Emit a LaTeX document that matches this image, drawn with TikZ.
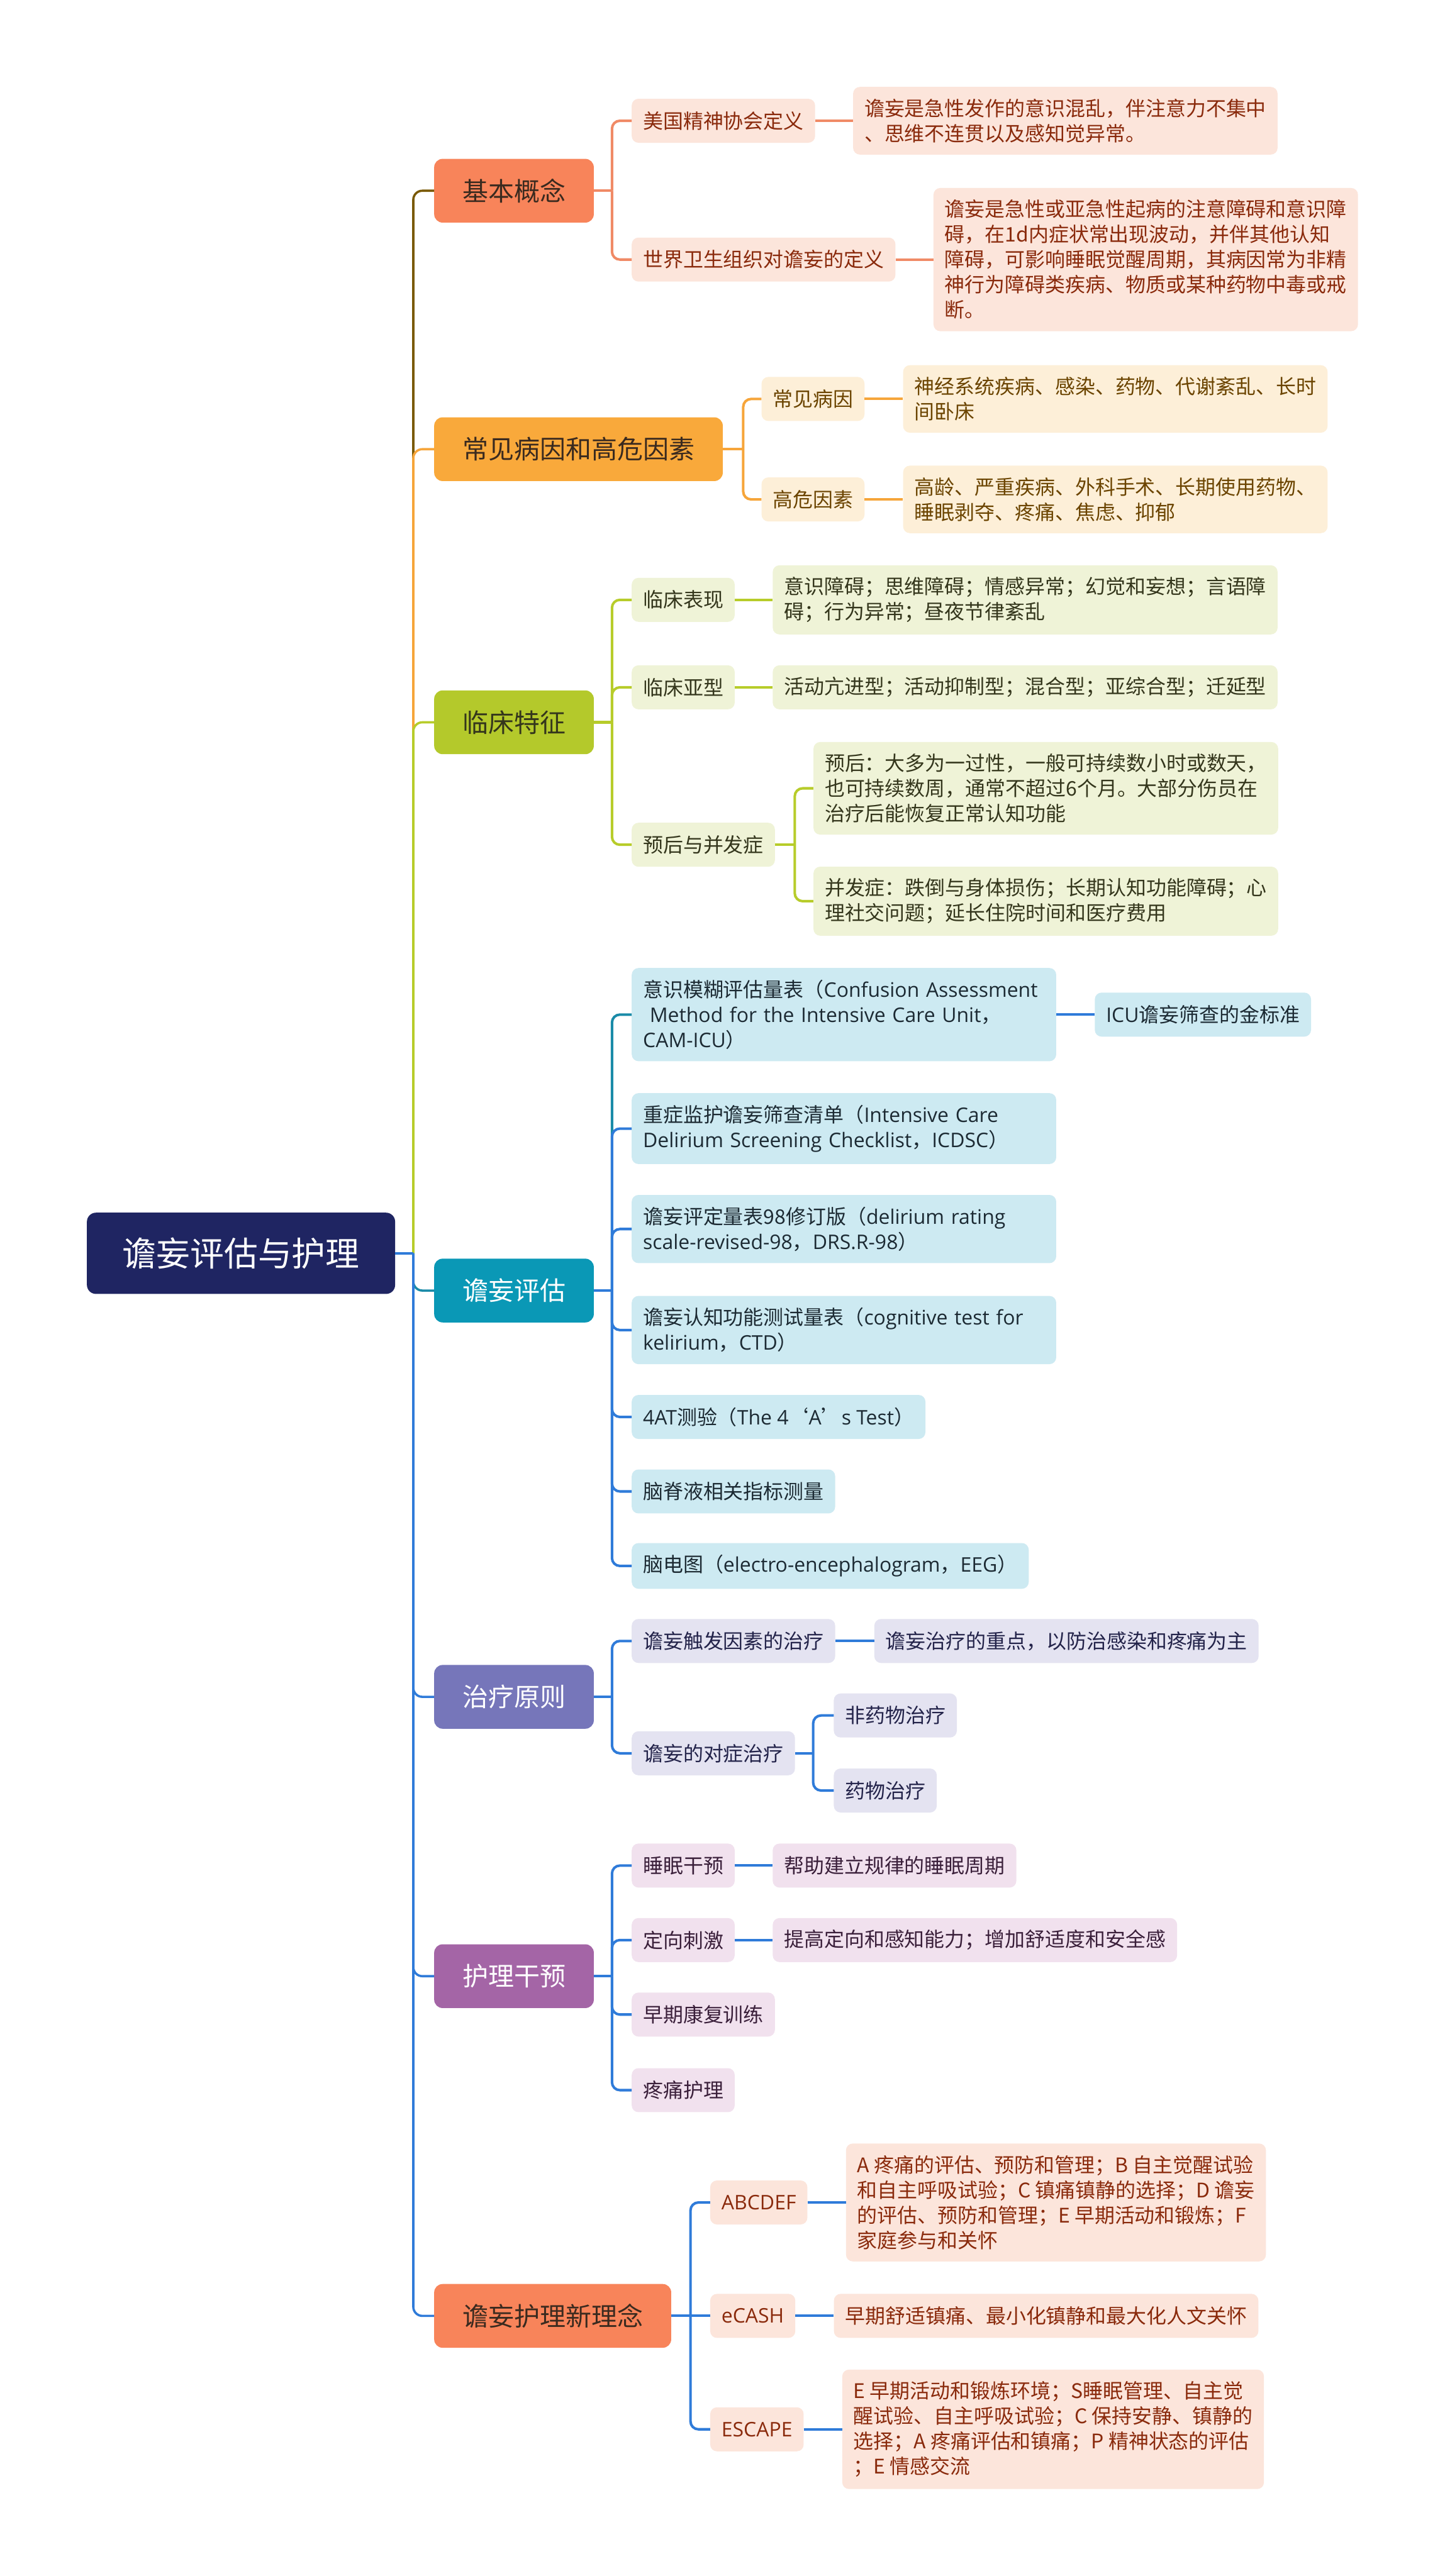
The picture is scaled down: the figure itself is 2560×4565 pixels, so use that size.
\documentclass[tikz,border=0pt]{standalone}
\usepackage{fontspec}
\setmainfont{Noto Sans CJK SC}
\newfontfamily\lat{Open Sans}
\usetikzlibrary{positioning}

\definecolor{rootnavy}{HTML}{1F2562}
\definecolor{salmon}{HTML}{F8845A}
\definecolor{salmonlt}{HTML}{FCE5DB}
\definecolor{salmontx}{HTML}{8A2A0C}
\definecolor{salmonln}{HTML}{F08A66}
\definecolor{oliveln}{HTML}{7A5A06}
\definecolor{darktx}{HTML}{3A2A1F}
\definecolor{amber}{HTML}{F9A93B}
\definecolor{amberlt}{HTML}{FDEFD8}
\definecolor{ambertx}{HTML}{6B4400}
\definecolor{amberln}{HTML}{F6A53A}
\definecolor{lime}{HTML}{B4C92B}
\definecolor{limelt}{HTML}{EFF3D7}
\definecolor{limetx}{HTML}{34361C}
\definecolor{limeln}{HTML}{B7CC2A}
\definecolor{evalfill}{HTML}{0A98B6}
\definecolor{evallt}{HTML}{CDEAF2}
\definecolor{evaltx}{HTML}{1C2A33}
\definecolor{evalln}{HTML}{1A8BA8}
\definecolor{blueln}{HTML}{2F7BD9}
\definecolor{treat}{HTML}{7676BA}
\definecolor{treatlt}{HTML}{E4E3F1}
\definecolor{treattx}{HTML}{23234A}
\definecolor{care}{HTML}{A465A6}
\definecolor{carelt}{HTML}{F1E1EE}
\definecolor{caretx}{HTML}{3A1F3A}

\tikzset{
  rootbox/.style={rounded corners=16pt, fill=rootnavy, text=white, inner xsep=63pt,
    minimum height=144pt, font=\fontsize{60}{72}\selectfont},
  mainbox/.style={anchor=west, rounded corners=15pt, inner xsep=50pt, minimum height=113pt,
    font=\fontsize{45.7}{55}\selectfont},
  subbox/.style={anchor=west, rounded corners=12pt, inner xsep=20pt, inner ysep=21pt,
    minimum height=78pt, align=left, font=\fontsize{35.6}{44.6}\selectfont},
  concept/.style={fill=salmonlt, text=salmontx},
  cause/.style={fill=amberlt, text=ambertx},
  clinic/.style={fill=limelt, text=limetx},
  assess/.style={fill=evallt, text=evaltx},
  therapy/.style={fill=treatlt, text=treattx},
  nursing/.style={fill=carelt, text=caretx},
  trunk/.style={line width=4pt, rounded corners=16pt},
  twig/.style={line width=4.5pt, rounded corners=14pt}
}

\begin{document}
\begin{tikzpicture}[x=1pt,y=-1pt]
  \fill[white] (0,0) rectangle (2560,4565);
  \useasboundingbox (0,0) rectangle (2560,4565);

  % root and main branches
  \node[rootbox] (root) at (427,2221) {谵妄评估与护理};
  \node[mainbox, fill=salmon, text=darktx] (b1) at (769,338) {基本概念};
  \node[mainbox, fill=amber, text=darktx] (b2) at (769,796) {常见病因和高危因素};
  \node[mainbox, fill=lime, text=limetx] (b3) at (769,1280) {临床特征};
  \node[mainbox, fill=evalfill, text=white] (b4) at (769,2287) {谵妄评估};
  \node[mainbox, fill=treat, text=white] (b5) at (769,3007) {治疗原则};
  \node[mainbox, fill=care, text=white] (b6) at (769,3502) {护理干预};
  \node[mainbox, fill=salmon, text=darktx] (b7) at (769,4104) {谵妄护理新理念};

  % 基本概念
  \node[subbox, concept] (s11) at (1119,214) {美国精神协会定义};
  \node[subbox, concept, right=67pt of s11] (d11) {谵妄是急性发作的意识混乱，伴注意力不集中\\、思维不连贯以及感知觉异常。};
  \node[subbox, concept] (s12) at (1119,460) {世界卫生组织对谵妄的定义};
  \node[subbox, concept, right=67pt of s12] (d12) {谵妄是急性或亚急性起病的注意障碍和意识障\\碍，在1d内症状常出现波动，并伴其他认知\\障碍，可影响睡眠觉醒周期，其病因常为非精\\神行为障碍类疾病、物质或某种药物中毒或戒\\断。};

  % 常见病因和高危因素
  \node[subbox, cause] (s21) at (1349,707) {常见病因};
  \node[subbox, cause, right=68pt of s21] (d21) {神经系统疾病、感染、药物、代谢紊乱、长时\\间卧床};
  \node[subbox, cause] (s22) at (1349,885) {高危因素};
  \node[subbox, cause, right=68pt of s22] (d22) {高龄、严重疾病、外科手术、长期使用药物、\\睡眠剥夺、疼痛、焦虑、抑郁};

  % 临床特征
  \node[subbox, clinic] (s31) at (1119,1063) {临床表现};
  \node[subbox, clinic, right=67pt of s31] (d31) {意识障碍；思维障碍；情感异常；幻觉和妄想；言语障\\碍；行为异常；昼夜节律紊乱};
  \node[subbox, clinic] (s32) at (1119,1218) {临床亚型};
  \node[subbox, clinic, right=67pt of s32] (d32) {活动亢进型；活动抑制型；混合型；亚综合型；迁延型};
  \node[subbox, clinic] (s33) at (1119,1497) {预后与并发症};
  \node[subbox, clinic] (d331) at (1441,1397) {预后：大多为一过性，一般可持续数小时或数天，\\也可持续数周，通常不超过6个月。大部分伤员在\\治疗后能恢复正常认知功能};
  \node[subbox, clinic] (d332) at (1441,1597) {并发症：跌倒与身体损伤；长期认知功能障碍；心\\理社交问题；延长住院时间和医疗费用};

  % 谵妄评估
  \node[subbox, assess, text width=712pt] (s41) at (1119,1798) {意识模糊评估量表（{\lat Confusion Assessment}\\{\lat\ Method for the Intensive Care Unit}，\\{\lat CAM-ICU}）};
  \node[subbox, assess, right=68pt of s41] (d41) {{\lat ICU}谵妄筛查的金标准};
  \node[subbox, assess, text width=712pt] (s42) at (1119,2000) {重症监护谵妄筛查清单（{\lat Intensive Care}\\{\lat Delirium Screening Checklist}，{\lat ICDSC}）};
  \node[subbox, assess, text width=712pt] (s43) at (1119,2178) {谵妄评定量表98修订版（{\lat delirium rating}\\{\lat scale-revised-98}，{\lat DRS.R-98}）};
  \node[subbox, assess, text width=712pt] (s44) at (1119,2357) {谵妄认知功能测试量表（{\lat cognitive test for}\\{\lat kelirium}，{\lat CTD}）};
  \node[subbox, assess] (s45) at (1119,2511) {{\lat 4AT}测验（{\lat The 4}‘{\lat A}’{\lat s Test}）};
  \node[subbox, assess] (s46) at (1119,2643) {脑脊液相关指标测量};
  \node[subbox, assess] (s47) at (1119,2775) {脑电图（{\lat electro-encephalogram}，{\lat EEG}）};

  % 治疗原则
  \node[subbox, therapy] (s51) at (1119,2908) {谵妄触发因素的治疗};
  \node[subbox, therapy, right=69pt of s51] (d51) {谵妄治疗的重点，以防治感染和疼痛为主};
  \node[subbox, therapy] (s52) at (1119,3107) {谵妄的对症治疗};
  \node[subbox, therapy] (s521) at (1477,3040) {非药物治疗};
  \node[subbox, therapy] (s522) at (1477,3173) {药物治疗};

  % 护理干预
  \node[subbox, nursing] (s61) at (1119,3306) {睡眠干预};
  \node[subbox, nursing, right=67pt of s61] (d61) {帮助建立规律的睡眠周期};
  \node[subbox, nursing] (s62) at (1119,3438) {定向刺激};
  \node[subbox, nursing, right=67pt of s62] (d62) {提高定向和感知能力；增加舒适度和安全感};
  \node[subbox, nursing] (s63) at (1119,3570) {早期康复训练};
  \node[subbox, nursing] (s64) at (1119,3704) {疼痛护理};

  % 谵妄护理新理念
  \node[subbox, concept] (s71) at (1258,3903) {{\lat ABCDEF}};
  \node[subbox, concept, right=68pt of s71] (d71) {A 疼痛的评估、预防和管理；B 自主觉醒试验\\和自主呼吸试验；C 镇痛镇静的选择；D 谵妄\\的评估、预防和管理；E 早期活动和锻炼；F\\家庭参与和关怀};
  \node[subbox, concept] (s72) at (1258,4104) {{\lat eCASH}};
  \node[subbox, concept, right=68pt of s72] (d72) {早期舒适镇痛、最小化镇静和最大化人文关怀};
  \node[subbox, concept] (s73) at (1258,4305) {{\lat ESCAPE}};
  \node[subbox, concept, right=68pt of s73] (d73) {E 早期活动和锻炼环境；S睡眠管理、自主觉\\醒试验、自主呼吸试验；C 保持安静、镇静的\\选择；A 疼痛评估和镇痛；P 精神状态的评估\\；E 情感交流};

  % junctions
  \coordinate (rj) at ([xshift=32pt]root.east);
  \coordinate (j1) at ([xshift=32pt]b1.east);
  \coordinate (j2) at ([xshift=36pt]b2.east);
  \coordinate (j3) at ([xshift=32pt]b3.east);
  \coordinate (j33) at ([xshift=35pt]s33.east);
  \coordinate (j4) at ([xshift=32pt]b4.east);
  \coordinate (j5) at ([xshift=32pt]b5.east);
  \coordinate (j52) at ([xshift=32pt]s52.east);
  \coordinate (j6) at ([xshift=32pt]b6.east);
  \coordinate (j7) at ([xshift=34pt]b7.east);

  % trunk lines
  \draw[trunk, oliveln] (rj) |- (b1);
  \draw[trunk, amberln] (rj) |- (b2);
  \draw[trunk, limeln] (rj) |- (b3);
  \draw[trunk, evalln] (rj) |- (b4);
  \draw[trunk, blueln] (rj) |- (b5);
  \draw[trunk, blueln] (rj) |- (b6);
  \draw[trunk, blueln] (rj) |- (b7);
  \draw[trunk, blueln] (root) -- (rj);

  % 基本概念 lines
  \draw[twig, salmonln] (b1) -- (j1);
  \draw[twig, salmonln] (j1) |- (s11);
  \draw[twig, salmonln] (j1) |- (s12);
  \draw[twig, salmonln] (s11) -- (d11);
  \draw[twig, salmonln] (s12) -- (d12);

  % 常见病因和高危因素 lines
  \draw[twig, amberln] (b2) -- (j2);
  \draw[twig, amberln] (j2) |- (s21);
  \draw[twig, amberln] (j2) |- (s22);
  \draw[twig, amberln] (s21) -- (d21);
  \draw[twig, amberln] (s22) -- (d22);

  % 临床特征 lines
  \draw[twig, limeln] (b3) -- (j3);
  \draw[twig, limeln] (j3) |- (s31);
  \draw[twig, limeln] (j3) |- (s32);
  \draw[twig, limeln] (j3) |- (s33);
  \draw[twig, limeln] (s31) -- (d31);
  \draw[twig, limeln] (s32) -- (d32);
  \draw[twig, limeln] (s33) -- (j33);
  \draw[twig, limeln] (j33) |- (d331);
  \draw[twig, limeln] (j33) |- (d332);

  % 谵妄评估 lines
  \draw[twig, blueln] (b4) -- (j4);
  \draw[twig, evalln] (j4) |- (s41);
  \draw[twig, blueln] (j4) |- (s42);
  \draw[twig, blueln] (j4) |- (s43);
  \draw[twig, blueln] (j4) |- (s44);
  \draw[twig, blueln] (j4) |- (s45);
  \draw[twig, blueln] (j4) |- (s46);
  \draw[twig, blueln] (j4) |- (s47);
  \draw[twig, blueln] (s41) -- (d41);

  % 治疗原则 lines
  \draw[twig, blueln] (b5) -- (j5);
  \draw[twig, blueln] (j5) |- (s51);
  \draw[twig, blueln] (j5) |- (s52);
  \draw[twig, blueln] (s51) -- (d51);
  \draw[twig, blueln] (s52) -- (j52);
  \draw[twig, blueln] (j52) |- (s521);
  \draw[twig, blueln] (j52) |- (s522);

  % 护理干预 lines
  \draw[twig, blueln] (b6) -- (j6);
  \draw[twig, blueln] (j6) |- (s61);
  \draw[twig, blueln] (j6) |- (s62);
  \draw[twig, blueln] (j6) |- (s63);
  \draw[twig, blueln] (j6) |- (s64);
  \draw[twig, blueln] (s61) -- (d61);
  \draw[twig, blueln] (s62) -- (d62);

  % 谵妄护理新理念 lines
  \draw[twig, blueln] (b7) -- (j7);
  \draw[twig, blueln] (j7) |- (s71);
  \draw[twig, blueln] (j7) -- (s72);
  \draw[twig, blueln] (j7) |- (s73);
  \draw[twig, blueln] (s71) -- (d71);
  \draw[twig, blueln] (s72) -- (d72);
  \draw[twig, blueln] (s73) -- (d73);
\end{tikzpicture}
\end{document}
